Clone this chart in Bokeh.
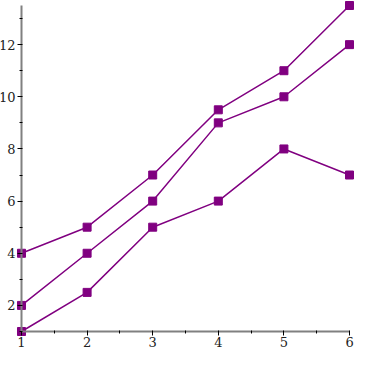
from bokeh.plotting import figure
from bokeh.models import Range1d, SingleIntervalTicker
from bokeh.embed import file_html
from bokeh.resources import INLINE

x = [1, 2, 3, 4, 5, 6]
series_a = [4, 5, 7, 9.5, 11, 13.5]
series_b = [2, 4, 6, 9, 10, 12]
series_c = [1, 2.5, 5, 6, 8, 7]
color = "#800080"

p = figure(width=354, height=354, output_backend="svg", toolbar_location=None,
           x_range=Range1d(0.680, 6.076), y_range=Range1d(0.118, 13.692),
           min_border=0)
p.outline_line_color = None
p.xgrid.visible = False
p.ygrid.visible = False

for ys in (series_a, series_b, series_c):
    p.line(x, ys, line_color=color, line_width=1.5)
    p.scatter(x, ys, marker="square", size=8, fill_color=color, line_color=color)

for ax in (p.xaxis[0], p.yaxis[0]):
    ax.fixed_location = 1
    ax.axis_line_color = "#808080"
    ax.axis_line_width = 2
    ax.major_tick_line_color = "black"
    ax.minor_tick_line_color = "black"
    ax.major_tick_in = 0
    ax.major_tick_out = 4
    ax.minor_tick_in = 1
    ax.minor_tick_out = 2
    ax.major_label_text_font = "DejaVu Serif"
    ax.major_label_text_font_size = "13px"
    ax.major_label_text_color = "#222222"
    ax.major_label_standoff = 2

p.xaxis[0].ticker = SingleIntervalTicker(interval=1, num_minor_ticks=2)
p.yaxis[0].ticker = SingleIntervalTicker(interval=2, num_minor_ticks=2)
p.xaxis[0].bounds = (1, 6)
p.yaxis[0].bounds = (1, 13.5)

open("out.html", "w").write(file_html(p, INLINE))
